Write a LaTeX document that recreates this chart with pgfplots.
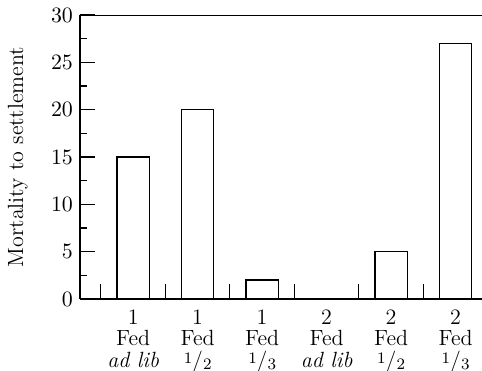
\documentclass[border=0pt]{standalone}
\usepackage{pgfplots}
\pgfplotsset{compat=1.18}
\newcommand{\fr}[2]{\raisebox{0.35ex}{\footnotesize #1}/\raisebox{-0.25ex}{\footnotesize #2}}
\begin{document}
\begin{tikzpicture}
\begin{axis}[
  x=32.25pt, y=4.7333pt,
  xmin=0.176, xmax=6.409, ymin=0, ymax=30,
  axis x line*=bottom, axis y line*=left,
  axis line style={-, line width=0.6pt},
  ytick={0,5,...,30}, minor y tick num=1,
  major tick length=7.5pt, minor tick length=3.5pt,
  tick style={black, line width=0.6pt},
  xtick={0.5,1.5,2.5,3.5,4.5,5.5},
  xticklabels={{1\\Fed\\\textit{ad lib}},{1\\Fed\\\fr{1}{2}},{1\\Fed\\\fr{1}{3}},{2\\Fed\\\textit{ad lib}},{2\\Fed\\\fr{1}{2}},{2\\Fed\\\fr{1}{3}}},
  xticklabel style={align=center, xshift=16.125pt, yshift=-2pt, font=\fontsize{11}{10.6}\selectfont},
  yticklabel style={font=\fontsize{11}{13}\selectfont},
  ylabel={Mortality to settlement},
  ylabel style={at={(rel axis cs:0,0.5)}, anchor=south, yshift=22.7pt, font=\fontsize{11}{13}\selectfont},
  ybar, bar width=16.125pt,
  xtick align=inside, ytick align=inside,
]
\addplot[draw=black, fill=white, line width=0.6pt] coordinates {(1,15) (2,20) (3,2) (4,0) (5,5) (6,27)};
\draw[line width=0.6pt] (rel axis cs:0,1) -- (rel axis cs:1,1);
\end{axis}
\pgfresetboundingbox
\useasboundingbox ([xshift=-40pt,yshift=-36pt]current axis.south west) rectangle ([yshift=7.5pt]current axis.north east);
\end{tikzpicture}
\end{document}
